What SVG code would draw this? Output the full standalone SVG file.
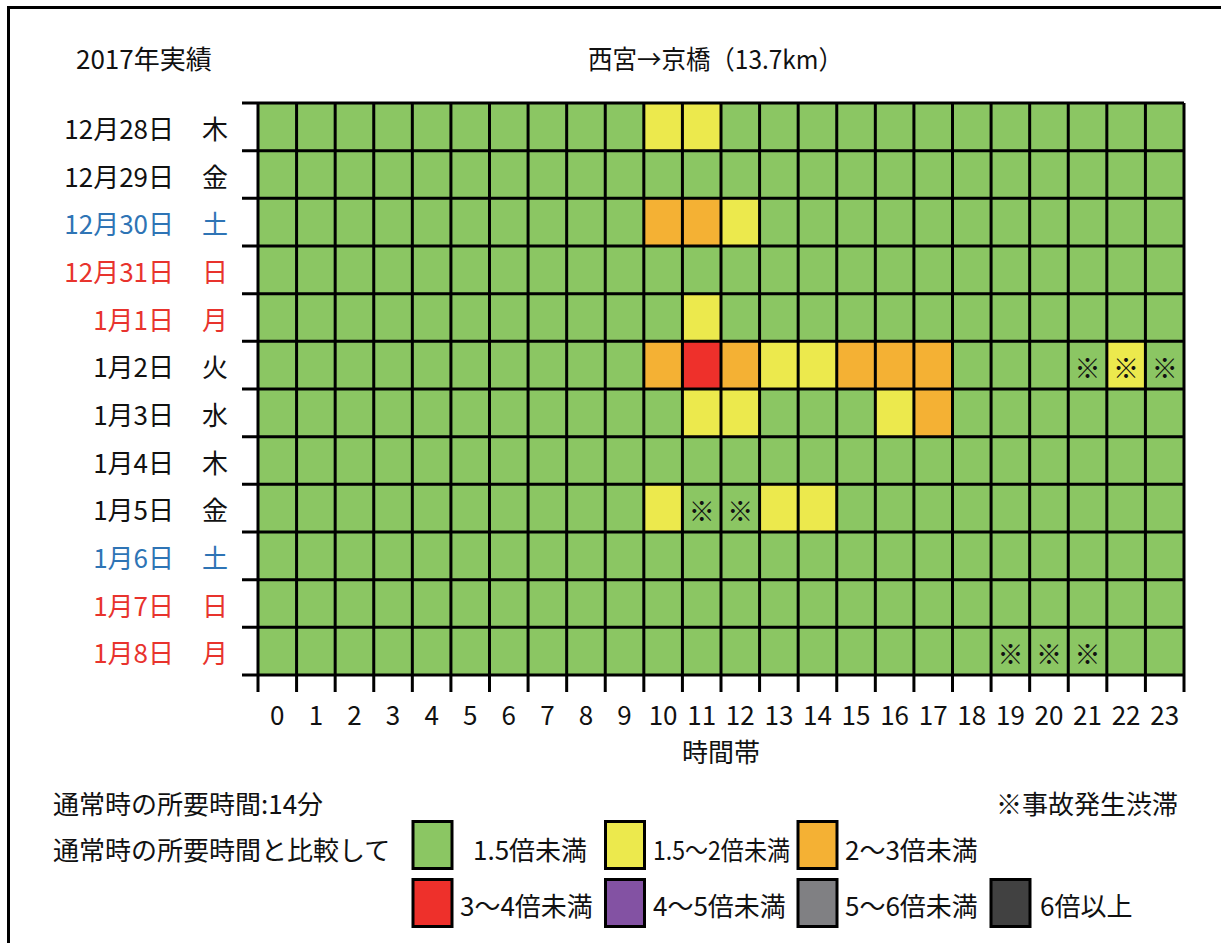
<svg xmlns="http://www.w3.org/2000/svg" width="1221" height="943" viewBox="0 0 1221 943">
<style>
text{font-family:"Noto Sans CJK JP","Liberation Sans",sans-serif;font-size:26px;fill:#111;dominant-baseline:central}
.k{fill:#111}.b{fill:#2E74B5}.r{fill:#E8332D}
.ax{text-anchor:middle}
.lb{text-anchor:end}
.g{fill:#8BC663}.y{fill:#ECE94D}.o{fill:#F4B134}.rd{fill:#EE302B}.p{fill:#8352A3}.gr{fill:#808083}.d{fill:#414141}
.ln{stroke:#000;stroke-width:3;fill:none}
.lg{stroke:#000;stroke-width:3}
.mk{text-anchor:middle;font-size:26px}
</style>
<rect x="8.5" y="7.5" width="1300" height="1000" fill="#fff" stroke="#000" stroke-width="3"/>
<g id="titles">
<text x="76" y="57">2017年実績</text>
<text x="588" y="57" textLength="255" lengthAdjust="spacingAndGlyphs">西宮→京橋（13.7km）</text>
</g>
<g id="row-labels">
<text class="lb k" x="174" y="127">12月28日</text><text class="ax k" x="215" y="127">木</text>
<text class="lb k" x="174" y="175">12月29日</text><text class="ax k" x="215" y="175">金</text>
<text class="lb b" x="174" y="222">12月30日</text><text class="ax b" x="215" y="222">土</text>
<text class="lb r" x="174" y="270">12月31日</text><text class="ax r" x="215" y="270">日</text>
<text class="lb r" x="174" y="318">1月1日</text><text class="ax r" x="215" y="318">月</text>
<text class="lb k" x="174" y="365">1月2日</text><text class="ax k" x="215" y="365">火</text>
<text class="lb k" x="174" y="413">1月3日</text><text class="ax k" x="215" y="413">水</text>
<text class="lb k" x="174" y="461">1月4日</text><text class="ax k" x="215" y="461">木</text>
<text class="lb k" x="174" y="508">1月5日</text><text class="ax k" x="215" y="508">金</text>
<text class="lb b" x="174" y="556">1月6日</text><text class="ax b" x="215" y="556">土</text>
<text class="lb r" x="174" y="604">1月7日</text><text class="ax r" x="215" y="604">日</text>
<text class="lb r" x="174" y="651">1月8日</text><text class="ax r" x="215" y="651">月</text>
</g>
<g id="cells">
<rect class="g" x="258" y="103" width="926" height="572"/>
<rect class="y" x="643.83" y="103" width="38.58" height="47.67"/>
<rect class="y" x="682.42" y="103" width="38.58" height="47.67"/>
<rect class="o" x="643.83" y="198.33" width="38.58" height="47.67"/>
<rect class="o" x="682.42" y="198.33" width="38.58" height="47.67"/>
<rect class="y" x="721" y="198.33" width="38.58" height="47.67"/>
<rect class="y" x="682.42" y="293.67" width="38.58" height="47.67"/>
<rect class="o" x="643.83" y="341.33" width="38.58" height="47.67"/>
<rect class="rd" x="682.42" y="341.33" width="38.58" height="47.67"/>
<rect class="o" x="721" y="341.33" width="38.58" height="47.67"/>
<rect class="y" x="759.58" y="341.33" width="38.58" height="47.67"/>
<rect class="y" x="798.17" y="341.33" width="38.58" height="47.67"/>
<rect class="o" x="836.75" y="341.33" width="38.58" height="47.67"/>
<rect class="o" x="875.33" y="341.33" width="38.58" height="47.67"/>
<rect class="o" x="913.92" y="341.33" width="38.58" height="47.67"/>
<rect class="y" x="1106.83" y="341.33" width="38.58" height="47.67"/>
<rect class="y" x="682.42" y="389" width="38.58" height="47.67"/>
<rect class="y" x="721" y="389" width="38.58" height="47.67"/>
<rect class="y" x="875.33" y="389" width="38.58" height="47.67"/>
<rect class="o" x="913.92" y="389" width="38.58" height="47.67"/>
<rect class="y" x="643.83" y="484.33" width="38.58" height="47.67"/>
<rect class="y" x="759.58" y="484.33" width="38.58" height="47.67"/>
<rect class="y" x="798.17" y="484.33" width="38.58" height="47.67"/>
</g>
<g id="accident-marks">
<text class="mk" x="1087.5" y="366">※</text>
<text class="mk" x="1126.1" y="366">※</text>
<text class="mk" x="1164.7" y="366">※</text>
<text class="mk" x="701.7" y="509">※</text>
<text class="mk" x="740.3" y="509">※</text>
<text class="mk" x="1010.4" y="652">※</text>
<text class="mk" x="1049" y="652">※</text>
<text class="mk" x="1087.5" y="652">※</text>
</g>
<g id="grid-lines">
<path class="ln" d="M242 103H1184M242 150.67H1184M242 198.33H1184M242 246H1184M242 293.67H1184M242 341.33H1184M242 389H1184M242 436.67H1184M242 484.33H1184M242 532H1184M242 579.67H1184M242 627.33H1184M242 675H1184"/>
<path class="ln" d="M258 103V692M296.58 103V692M335.17 103V692M373.75 103V692M412.33 103V692M450.92 103V692M489.5 103V692M528.08 103V692M566.67 103V692M605.25 103V692M643.83 103V692M682.42 103V692M721 103V692M759.58 103V692M798.17 103V692M836.75 103V692M875.33 103V692M913.92 103V692M952.5 103V692M991.08 103V692M1029.67 103V692M1068.25 103V692M1106.83 103V692M1145.42 103V692M1184 103V692"/>
</g>
<g id="x-axis">
<text class="ax" x="277.3" y="713">0</text>
<text class="ax" x="315.9" y="713">1</text>
<text class="ax" x="354.5" y="713">2</text>
<text class="ax" x="393" y="713">3</text>
<text class="ax" x="431.6" y="713">4</text>
<text class="ax" x="470.2" y="713">5</text>
<text class="ax" x="508.8" y="713">6</text>
<text class="ax" x="547.4" y="713">7</text>
<text class="ax" x="586" y="713">8</text>
<text class="ax" x="624.5" y="713">9</text>
<text class="ax" x="663.1" y="713">10</text>
<text class="ax" x="701.7" y="713">11</text>
<text class="ax" x="740.3" y="713">12</text>
<text class="ax" x="778.9" y="713">13</text>
<text class="ax" x="817.5" y="713">14</text>
<text class="ax" x="856" y="713">15</text>
<text class="ax" x="894.6" y="713">16</text>
<text class="ax" x="933.2" y="713">17</text>
<text class="ax" x="971.8" y="713">18</text>
<text class="ax" x="1010.4" y="713">19</text>
<text class="ax" x="1049" y="713">20</text>
<text class="ax" x="1087.5" y="713">21</text>
<text class="ax" x="1126.1" y="713">22</text>
<text class="ax" x="1164.7" y="713">23</text>
<text class="ax" x="721" y="750">時間帯</text>
</g>
<g id="legend">
<text x="53" y="802">通常時の所要時間:14分</text>
<text x="1178" y="802" text-anchor="end">※事故発生渋滞</text>
<text x="53" y="848">通常時の所要時間と比較して</text>
<rect class="g lg" x="413" y="821.5" width="39" height="47"/>
<text x="473" y="848">1.5倍未満</text>
<rect class="y lg" x="605.5" y="821.5" width="39" height="47"/>
<text x="653" y="848" font-size="21" textLength="137" lengthAdjust="spacingAndGlyphs">1.5～2倍未満</text>
<rect class="o lg" x="798" y="821.5" width="39" height="47"/>
<text x="845" y="848">2～3倍未満</text>
<rect class="rd lg" x="413" y="879.5" width="39" height="47"/>
<text x="460" y="904">3～4倍未満</text>
<rect class="p lg" x="605.5" y="879.5" width="39" height="47"/>
<text x="653" y="904">4～5倍未満</text>
<rect class="gr lg" x="798" y="879.5" width="39" height="47"/>
<text x="845" y="904">5～6倍未満</text>
<rect class="d lg" x="991" y="879.5" width="39" height="47"/>
<text x="1040" y="904">6倍以上</text>
</g>
</svg>
